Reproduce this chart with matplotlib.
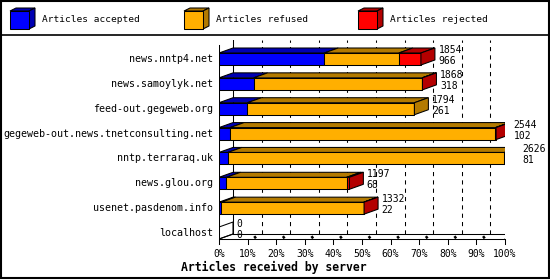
import matplotlib
matplotlib.use('Agg')
import matplotlib.pyplot as plt
from matplotlib.patches import Polygon, Rectangle
from matplotlib.colors import to_rgb

# data
servers = ['news.nntp4.net', 'news.samoylyk.net', 'feed-out.gegeweb.org',
           'gegeweb-out.news.tnetconsulting.net', 'nntp.terraraq.uk',
           'news.glou.org', 'usenet.pasdenom.info', 'localhost']
accepted = [966, 318, 261, 102, 81, 68, 22, 0]
refused = [685, 1546, 1533, 2436, 2540, 1104, 1307, 0]
rejected = [203, 4, 0, 6, 5, 25, 3, 0]
series = ['Articles accepted', 'Articles refused', 'Articles rejected']
colors = ['#0000ff', '#ffaf00', '#ff0000']
ticks = [0, 10, 20, 30, 40, 50, 60, 70, 80, 90, 100]

totals = [a + r + j for a, r, j in zip(accepted, refused, rejected)]
vmax = max(totals)

plt.rcParams['font.family'] = ['DejaVu Sans Mono']
plt.rcParams['font.size'] = 7.2


def shade(c, f=0.7):
    r, g, b = to_rgb(c)
    return (r * f, g * f, b * f)


fig = plt.figure(figsize=(5.5, 2.8), dpi=100)

# frame + legend, drawn in pixel units
bg = fig.add_axes([0, 0, 1, 1])
bg.set_xlim(0, 550)
bg.set_ylim(280, 0)
bg.axis('off')
bg.add_patch(Rectangle((0.7, 0.7), 548.3, 277.6, fill=False, ec='k', lw=1.5))
bg.plot([0, 550], [35, 35], color='k', lw=1.2)
for x0, name, c in zip([10, 184, 358], series, colors):
    bg.add_patch(Polygon([(x0, 11), (x0 + 19, 11), (x0 + 25, 8), (x0 + 6, 8)],
                         fc=shade(c), ec='k', lw=0.75))
    bg.add_patch(Polygon([(x0 + 19, 11), (x0 + 19, 29), (x0 + 25, 26), (x0 + 25, 8)],
                         fc=shade(c), ec='k', lw=0.75))
    bg.add_patch(Rectangle((x0, 11), 19, 18, fc=c, ec='k', lw=0.75))
    bg.text(x0 + 32, 20, name, va='center', ha='left', fontsize=6.8)

# plot area: x in percent of the largest total, y in rows
ax = fig.add_axes([219 / 550, 1 - 245 / 280, 286 / 550, 205 / 280])
ax.set_facecolor('none')
kx = 100 / 286          # percent per pixel
ky = 1 / 24.86          # rows per pixel
top, bottom = -19 * ky, 186 * ky
ax.set_xlim(0, 100)
ax.set_ylim(bottom, top)
ax.axis('off')

DX, DY = 14 * kx, -5 * ky
half = 6 * ky
lw = 0.75
floor = len(servers) - 1 + half

# back wall grid
for p in ticks[1:-1]:
    ax.plot([p + DX, p + DX], [floor + DY, top], color='k', lw=0.75,
            ls=(0, (4, 4)), zorder=0.5)
ax.plot([0, 0], [floor, top - DY], color='k', lw=lw, zorder=0.6)
ax.plot([DX, DX], [floor + DY, top], color='k', lw=lw, zorder=0.6)
ax.plot([100 + DX, 100 + DX], [floor + DY, top], color='k', lw=lw, zorder=0.6)
ax.plot([DX, 100 + 2.1 * DX], [floor + DY, floor + DY], color='k', lw=lw, zorder=0.6)
ax.plot([0, 100], [floor, floor], color='k', lw=lw, zorder=0.6)
ax.plot([-1.2 * DX, DX], [floor - 1.2 * DY, floor + DY], color='k', lw=lw, zorder=0.6)
ax.plot([100, 100 + DX], [floor, floor + DY], color='k', lw=lw, zorder=0.6)

# ticks along the floor
for p in ticks:
    ax.plot([p, p], [floor, floor + 5 * ky], color='k', lw=lw, clip_on=False)
    ax.annotate(f'{p}%', xy=(p, floor), xytext=(0, -15), textcoords='offset pixels',
                ha='center', va='center', fontsize=7, annotation_clip=False)
    if 0 < p < 100:
        ax.plot([p + 6.5 * kx, p + 8.5 * kx], [floor - 1 * ky, floor - 2.5 * ky],
                color='k', lw=2, solid_capstyle='butt', clip_on=False)

# 3D bars
for i, name in enumerate(servers):
    yt, yb = i - half, i + half
    left = 0
    last = None
    for v, c in zip([accepted[i], refused[i], rejected[i]], colors):
        if v == 0:
            continue
        w = 100 * v / vmax
        ax.add_patch(Polygon([(left, yt), (left + w, yt), (left + w + DX, yt + DY),
                              (left + DX, yt + DY)], fc=shade(c), ec='k', lw=lw, zorder=2))
        ax.add_patch(Rectangle((left, yt), w, yb - yt, fc=c, ec='k', lw=lw, zorder=2))
        left += w
        last = c
    ax.add_patch(Polygon([(left, yt), (left, yb), (left + DX, yb + DY), (left + DX, yt + DY)],
                         fc=shade(last) if last else 'none', ec='k', lw=lw, zorder=2))
    ax.annotate(name, xy=(0, i), xytext=(-6, 0), textcoords='offset pixels',
                ha='right', va='center', annotation_clip=False)
    ax.annotate(str(totals[i]), xy=(left + DX, yt), xytext=(3.5, 3), textcoords='offset pixels',
                ha='left', va='center', fontsize=7, annotation_clip=False, zorder=3)
    ax.annotate(str(accepted[i]), xy=(left + DX, yt), xytext=(3.5, -8), textcoords='offset pixels',
                ha='left', va='center', fontsize=7, annotation_clip=False, zorder=3)

fig.text(273.5 / 550, 1 - 267 / 280, 'Articles received by server',
         ha='center', va='center', fontsize=8.3, fontweight='bold')

fig.savefig('out.png', dpi=100, facecolor='white')
